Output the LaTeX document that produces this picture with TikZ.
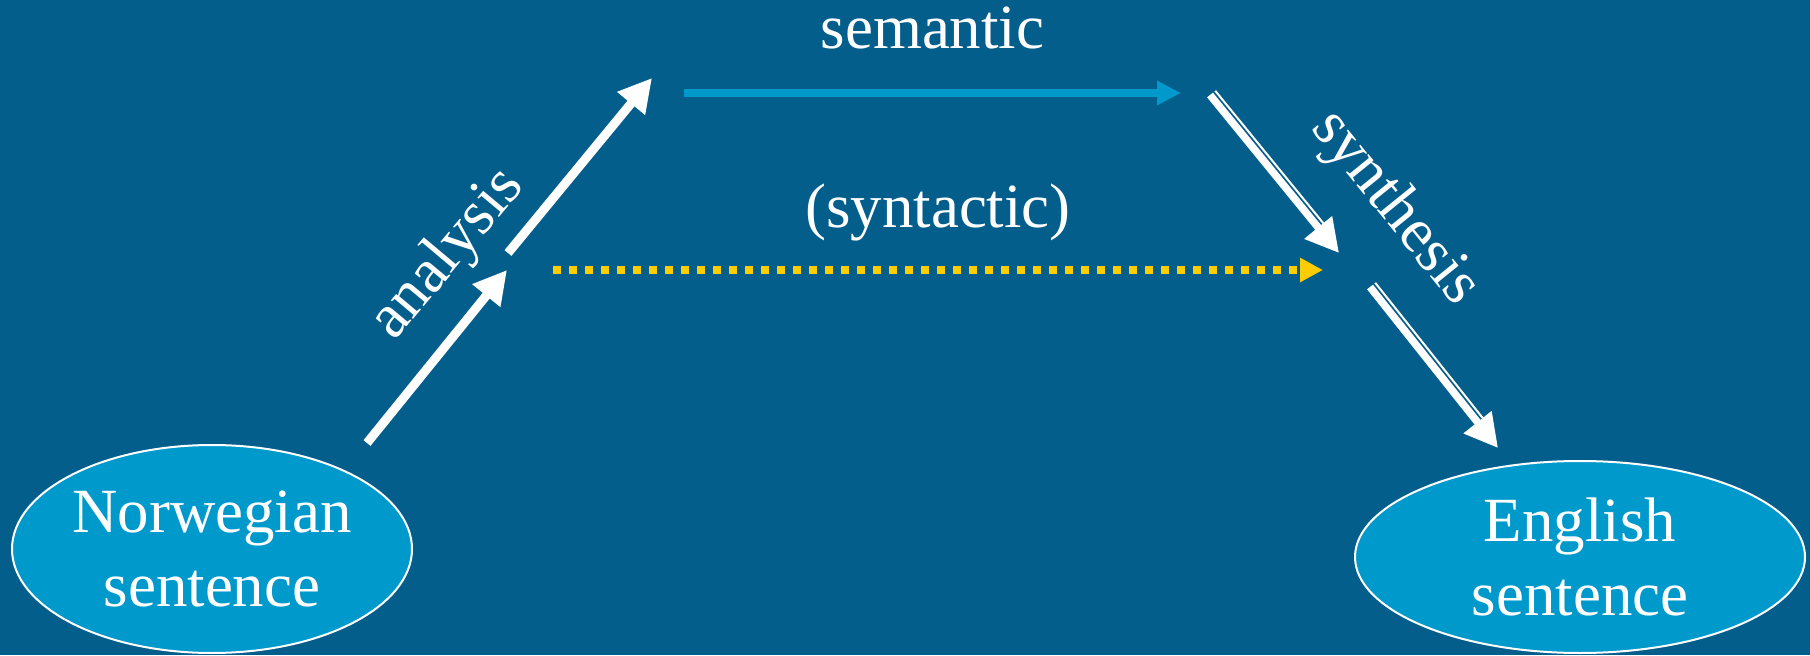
\documentclass[tikz,border=0pt]{standalone}
\usepackage{fontspec}
\setmainfont{Liberation Serif}
\usetikzlibrary{shapes,arrows.meta,positioning,calc}
\definecolor{slidebg}{RGB}{3,94,140}
\definecolor{skyblue}{RGB}{0,153,204}
\definecolor{amber}{RGB}{255,204,0}

\begin{document}
\begin{tikzpicture}[
    every node/.style={text=white,font=\fontsize{17.9}{21.3}\selectfont},
    sentence/.style={ellipse,draw=white,line width=0.02cm,fill=skyblue,align=center,inner sep=0pt},
    wide/.style={white,line width=0.09cm,-{Triangle[width=0.34cm,length=0.33cm]}},
    twin/.style={white,line width=0.02cm}
  ]
        \fill [slidebg] (0,0) rectangle (18.1,6.55);
        \useasboundingbox (0,0) rectangle (18.1,6.55);
        \node [sentence,minimum width=4cm,minimum height=2.08cm] (nor) at (2.12,1.06) {Norwegian\\sentence};
        \node [sentence,minimum width=4.5cm,minimum height=1.92cm] (eng) at (15.80,0.98) {English\\sentence};
        \coordinate (a1) at (3.67,2.12);
        \coordinate (a2) at (5.07,3.85);
        \coordinate (a3) at (5.08,4.02);
        \coordinate (a4) at (6.52,5.77);
        \coordinate (m1) at (6.84,5.62);
        \coordinate (m2) at (11.81,5.62);
        \coordinate (d1) at (5.53,3.85);
        \coordinate (d2) at (13.23,3.85);
        \coordinate (s1) at (12.10,5.60);
        \coordinate (s2) at (13.39,4.02);
        \coordinate (s3) at (13.70,3.68);
        \coordinate (s4) at (14.98,2.07);
        \draw [wide] (a1) -- (a2);
        \draw [wide] (a3) -- (a4);
        \node [rotate=50,anchor=base] (ana) at (4.60,3.91) {analysis};
        \draw [skyblue,line width=0.08cm,-{Triangle[width=0.23cm,length=0.24cm]}] (m1) -- (m2) node [midway,above=0.4cm,inner sep=0pt] (sem) {semantic};
        \draw [amber,line width=0.08cm,dash pattern=on 0.08cm off 0.08cm,-{Triangle[width=0.23cm,length=0.23cm]}] (d1) -- (d2) node [midway,above=0.25cm,inner sep=0pt] (syt) {(syntactic)};
        \draw [wide,line width=0.075cm] (s1) -- (s2);
        \draw [twin] ($(s1)+(0.052,0.042)$) -- ($(s2)!0.3cm!(s1)+(0.052,0.042)$);
        \draw [wide,line width=0.075cm] (s3) -- (s4);
        \draw [twin] ($(s3)+(0.052,0.042)$) -- ($(s4)!0.3cm!(s3)+(0.052,0.042)$);
        \node [rotate=-51,anchor=base] (syn) at (13.83,4.37) {synthesis};
      \end{tikzpicture}
\end{document}
